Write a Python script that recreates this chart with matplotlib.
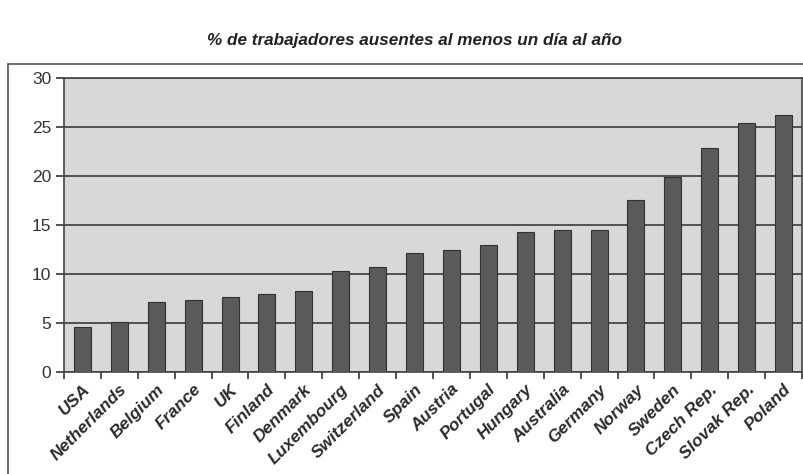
import matplotlib.pyplot as plt
from matplotlib.patches import Rectangle
import numpy as np

countries = ['USA', 'Netherlands', 'Belgium', 'France', 'UK', 'Finland', 'Denmark',
             'Luxembourg', 'Switzerland', 'Spain', 'Austria', 'Portugal', 'Hungary',
             'Australia', 'Germany', 'Norway', 'Sweden', 'Czech Rep.', 'Slovak Rep.', 'Poland']
values = [4.6, 5.1, 7.1, 7.3, 7.7, 8.0, 8.3, 10.3, 10.7, 12.1, 12.5, 13.0, 14.3,
          14.5, 14.5, 17.6, 19.9, 22.9, 25.4, 26.2]
yticks = [0, 5, 10, 15, 20, 25, 30]

fonts = ['Liberation Sans Narrow', 'Liberation Sans', 'DejaVu Sans']

fig = plt.figure(figsize=(8.04, 4.74), dpi=100)
fig.patch.set_facecolor('white')

# outer frame around the chart
fig.patches.append(Rectangle((8 / 804, -0.05), 1.0, (474 - 64) / 474 + 0.05,
                             transform=fig.transFigure, fill=False,
                             edgecolor='#555555', linewidth=1.2))

ax = fig.add_axes([64 / 804, (474 - 372) / 474, (802 - 64) / 804, (372 - 78) / 474])
ax.set_facecolor('#d8d8d8')

x = np.arange(len(countries))
ax.bar(x, values, width=0.46, color='#5a5a5a', edgecolor='#333333', linewidth=0.8, zorder=3)

ax.set_ylim(0, 30)
ax.set_xlim(-0.5, len(countries) - 0.5)
ax.set_yticks(yticks)
ax.yaxis.grid(True, color='#3a3a3a', linewidth=1.2, zorder=1)
ax.set_axisbelow(True)

# ticks at category boundaries, labels at centres
ax.set_xticks(np.arange(-0.5, len(countries), 1.0))
ax.set_xticklabels([])
ax.set_xticks(x, minor=True)
ax.set_xticklabels(countries, minor=True, rotation=45, ha='right', va='top',
                   rotation_mode='anchor', fontsize=12.5, fontweight='bold',
                   fontstyle='italic', family=fonts, color='#2a2a2a')
ax.tick_params(axis='x', which='minor', length=0, pad=7)
ax.tick_params(axis='x', which='major', length=5, width=1.2, color='#333333', direction='out')
ax.tick_params(axis='y', length=6, width=1.2, color='#333333', direction='out', pad=3)
for lab in ax.get_yticklabels():
    lab.set_fontsize(12.5)
    lab.set_family(fonts)
    lab.set_color('#333333')

for side in ['left', 'bottom', 'top', 'right']:
    ax.spines[side].set_color('#444444')
    ax.spines[side].set_linewidth(1.2)

fig.text(415 / 804, 1 - 40 / 474, '% de trabajadores ausentes al menos un día al año',
         ha='center', va='center', fontsize=12.3, fontweight='bold', fontstyle='italic',
         family=fonts, color='#222222')

fig.savefig('out.png', dpi=100)
